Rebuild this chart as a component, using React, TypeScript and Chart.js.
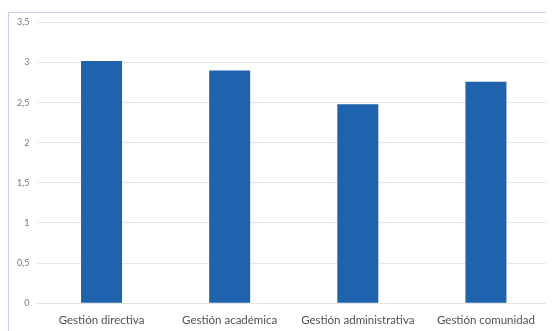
import React, { useEffect, useRef } from "react";
import { Chart, registerables } from "chart.js";

Chart.register(...registerables);

const categories = ["Gestión directiva", "Gestión académica", "Gestión administrativa", "Gestión comunidad"];
const values = [3.02, 2.9, 2.48, 2.76];
const yMin = 0;
const yMax = 3.5;
const yStep = 0.5;

export default function App() {
  const ref = useRef<HTMLCanvasElement | null>(null);
  useEffect(() => {
    if (!ref.current) return;
    const chart = new Chart(ref.current, {
      type: "bar",
      data: {
        labels: categories,
        datasets: [
          {
            data: values,
            backgroundColor: "#1f62ad",
            borderWidth: 0,
            categoryPercentage: 1,
            barPercentage: 0.32,
          },
        ],
      },
      options: {
        animation: false,
        responsive: false,
        layout: { padding: { top: 0, right: 4, left: 0, bottom: 2 } },
        plugins: { legend: { display: false }, tooltip: { enabled: false } },
        scales: {
          x: {
            grid: { display: false },
            border: { color: "#e3e3e3" },
            ticks: {
              color: "#505050",
              font: { family: "Lato", size: 11.5 },
              maxRotation: 0,
              autoSkip: false,
              padding: 2,
            },
          },
          y: {
            min: yMin,
            max: yMax,
            border: { display: false },
            grid: { color: "#e6e6e6", drawTicks: false },
            ticks: {
              stepSize: yStep,
              color: "#7a7a7a",
              font: { family: "Lato", size: 9 },
              padding: 8,
              callback: (v: any) => String(v).replace(".", ","),
            },
          },
        },
      },
    });
    return () => chart.destroy();
  }, []);
  return (
    <div style={{ position: "relative", height: 323 }}>
      <div style={{ position: "absolute", top: 4, left: 0, borderLeft: "1px solid #c9cde6", borderTop: "1px solid #c9cde6", width: 546, height: 319 }} />
      <canvas ref={ref} width={545} height={322} style={{ display: "block", position: "absolute", top: 1, left: 1 }} />
    </div>
  );
}
